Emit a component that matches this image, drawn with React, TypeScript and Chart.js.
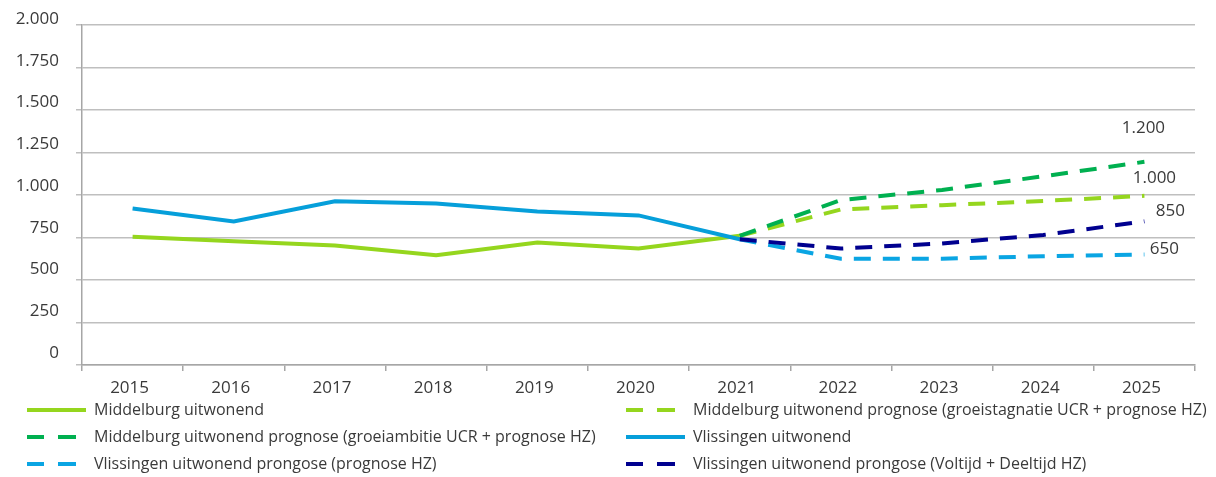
import React, { useEffect, useRef } from "react";
import { Chart, registerables } from "chart.js";

Chart.register(...registerables);

const years = ["2015", "2016", "2017", "2018", "2019", "2020", "2021", "2022", "2023", "2024", "2025"];

const middelburg = [755, 728, 703, 645, 720, 685, 760, null, null, null, null];
const middelburgStagnatie = [null, null, null, null, null, null, 760, 915, 940, 965, 995];
const middelburgAmbitie = [null, null, null, null, null, null, 760, 970, 1030, 1110, 1195];
const vlissingen = [920, 844, 963, 950, 903, 880, 740, null, null, null, null];
const vlissingenHZ = [null, null, null, null, null, null, 740, 625, 625, 640, 650];
const vlissingenVoltijd = [null, null, null, null, null, null, 740, 685, 715, 765, 845];

const endLabels = ["", "1.000", "1.200", "", "650", "850"];

const seriesNames = [
  "Middelburg uitwonend",
  "Middelburg uitwonend prognose (groeistagnatie UCR + prognose HZ)",
  "Middelburg uitwonend prognose (groeiambitie UCR + prognose HZ)",
  "Vlissingen uitwonend",
  "Vlissingen uitwonend prongose (prognose HZ)",
  "Vlissingen uitwonend prongose (Voltijd + Deeltijd HZ)",
];

const yTicks = [0, 250, 500, 750, 1000, 1250, 1500, 1750, 2000];

const FONT = '"Open Sans", sans-serif';
const TEXT = "#3A3A3A";

const fmt = (v: number) => {
  const s = Math.round(v).toString();
  return s.replace(/\B(?=(\d{3})+(?!\d))/g, ".");
};

// style per series (colour, dash, label offset relative to last point)
const styles = [
  { color: "#95D61E", dash: [] as number[], label: null as null | number[] },
  { color: "#95D61E", dash: [17, 12], label: [10, -18] },
  { color: "#00B050", dash: [17, 12], label: [-1, -34] },
  { color: "#069FDA", dash: [] as number[], label: null },
  { color: "#0AA5E3", dash: [17, 12], label: [20, -5] },
  { color: "#00008F", dash: [17, 12], label: [26, -10] },
];

const legendPos = [
  { x: 27, y: 410 },
  { x: 626, y: 410 },
  { x: 27, y: 437 },
  { x: 626, y: 437 },
  { x: 27, y: 464 },
  { x: 626, y: 464 },
];

const extrasPlugin = {
  id: "extras",
  afterDatasetsDraw(chart: any) {
    const ctx = chart.ctx;
    ctx.save();
    ctx.font = `17px ${FONT}`;
    ctx.fillStyle = TEXT;
    ctx.textAlign = "center";
    ctx.textBaseline = "middle";
    chart.data.datasets.forEach((ds: any, i: number) => {
      const st = styles[i];
      if (!st.label || !endLabels[i]) return;
      const meta = chart.getDatasetMeta(i);
      const idx = ds.data.length - 1;
      const pt = meta.data[idx];
      if (!pt) return;
      ctx.fillText(endLabels[i], pt.x + st.label[0], pt.y + st.label[1]);
    });
    ctx.restore();
  },
  afterDraw(chart: any) {
    const ctx = chart.ctx;
    ctx.save();
    // y-axis labels (Excel-style slightly compressed placement)
    const ys = chart.scales.y;
    ctx.font = `17px ${FONT}`;
    ctx.fillStyle = TEXT;
    ctx.textAlign = "right";
    ctx.textBaseline = "middle";
    yTicks.forEach((v) => {
      const py = ys.getPixelForValue(v);
      const off = 5.7 + 6.6 * (1 - v / 2000);
      ctx.fillText(fmt(v), 59, py - off);
    });
    chart.data.datasets.forEach((ds: any, i: number) => {
      const st = styles[i];
      const p = legendPos[i];
      ctx.strokeStyle = st.color;
      ctx.lineWidth = 4;
      ctx.lineCap = "butt";
      ctx.beginPath();
      if (st.dash.length) {
        ctx.moveTo(p.x, p.y);
        ctx.lineTo(p.x + 17, p.y);
        ctx.moveTo(p.x + 31, p.y);
        ctx.lineTo(p.x + 49, p.y);
      } else {
        ctx.moveTo(p.x, p.y);
        ctx.lineTo(p.x + 59, p.y);
      }
      ctx.stroke();
      ctx.font = `16px ${FONT}`;
      ctx.fillStyle = TEXT;
      ctx.textAlign = "left";
      ctx.textBaseline = "middle";
      ctx.fillText(ds.label, p.x + 67, p.y);
    });
    ctx.restore();
  },
};

export default function App() {
  const ref = useRef<HTMLCanvasElement | null>(null);

  useEffect(() => {
    if (!ref.current) return;
    const seriesData = [
      middelburg,
      middelburgStagnatie,
      middelburgAmbitie,
      vlissingen,
      vlissingenHZ,
      vlissingenVoltijd,
    ];
    const chart = new Chart(ref.current, {
      type: "line",
      data: {
        labels: years,
        datasets: seriesData.map((d, i) => ({
          label: seriesNames[i],
          data: d,
          borderColor: styles[i].color,
          backgroundColor: styles[i].color,
          borderWidth: 4,
          borderDash: styles[i].dash,
          pointRadius: 0,
          pointHoverRadius: 0,
          tension: 0,
          spanGaps: false,
          order: 6 - i,
        })),
      },
      options: {
        animation: false,
        responsive: false,
        maintainAspectRatio: false,
        layout: { padding: { top: 25, right: 21, left: 0, bottom: 0 } },
        plugins: {
          legend: { display: false },
          tooltip: { enabled: false },
        },
        scales: {
          x: {
            type: "category",
            offset: true,
            afterFit: (s: any) => {
              s.height = 112;
            },
            border: { display: true, color: "#A6A6A6", width: 1.5 },
            grid: {
              display: true,
              offset: true,
              drawOnChartArea: false,
              drawTicks: true,
              tickLength: 6,
              color: "#A6A6A6",
              lineWidth: 1.5,
            },
            ticks: {
              color: TEXT,
              font: { family: FONT, size: 17 },
              padding: 7,
              labelOffset: -3,
              maxRotation: 0,
              autoSkip: false,
            },
          },
          y: {
            min: 0,
            max: 2000,
            afterFit: (s: any) => {
              s.width = 82;
            },
            afterBuildTicks: (s: any) => {
              s.ticks = yTicks.map((v) => ({ value: v }));
            },
            border: { display: true, color: "#A6A6A6", width: 1.5 },
            grid: {
              color: "#BFBFBF",
              lineWidth: 1.5,
              drawTicks: true,
              tickLength: 6,
            },
            ticks: {
              display: false,
            },
          },
        },
      },
      plugins: [extrasPlugin],
    });
    return () => chart.destroy();
  }, []);

  return (
    <div style={{ position: "absolute", left: 0, top: 0, width: 1216, height: 477, background: "#fff" }}>
      <canvas ref={ref} width={1216} height={477} style={{ display: "block", width: 1216, height: 477 }} />
    </div>
  );
}
